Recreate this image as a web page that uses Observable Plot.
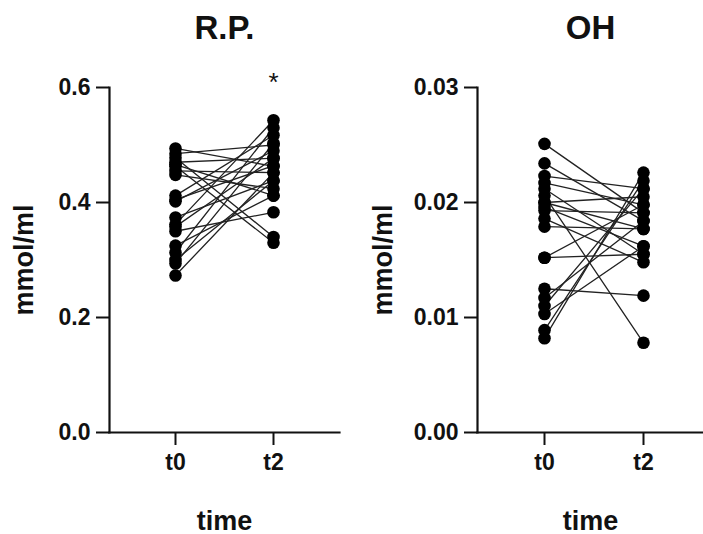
<!DOCTYPE html>
<html>
<head>
<meta charset="utf-8">
<script src="https://cdn.jsdelivr.net/npm/d3@7"></script>
<script src="https://cdn.jsdelivr.net/npm/@observablehq/plot@0.6"></script>
<style>
  html, body { margin: 0; padding: 0; background: #fff; overflow: hidden; }
  #wrap { display: flex; width: 703px; height: 534px; }
  svg { overflow: visible; }
</style>
</head>
<body>
<div id="wrap"></div>
<script>
const timepoints = ["t0", "t2"];
const titles = ["R.P.", "OH"];
const yLabel = "mmol/ml";
const xLabel = "time";

// R.P. paired values (mmol/ml)
const rpT0 = [0.494, 0.485, 0.478, 0.470, 0.463, 0.455, 0.448, 0.412, 0.402, 0.374,
              0.362, 0.350, 0.325, 0.313, 0.294, 0.273, 0.466, 0.405, 0.358, 0.300];
const rpT2 = [0.463, 0.500, 0.340, 0.477, 0.330, 0.452, 0.424, 0.517, 0.490, 0.438,
              0.543, 0.383, 0.412, 0.530, 0.503, 0.452, 0.412, 0.464, 0.477, 0.438];

// OH paired values (mmol/ml)
const ohT0 = [0.0251, 0.0234, 0.0223, 0.0217, 0.0212, 0.0206, 0.0200, 0.0196, 0.0193, 0.0186,
              0.0179, 0.0152, 0.0152, 0.0125, 0.0117, 0.0110, 0.0103, 0.0089, 0.0082, 0.0200];
const ohT2 = [0.0191, 0.0184, 0.0212, 0.0198, 0.0155, 0.0078, 0.0205, 0.0162, 0.0191, 0.0148,
              0.0177, 0.0198, 0.0155, 0.0119, 0.0184, 0.0212, 0.0162, 0.0219, 0.0226, 0.0177];

const rpTicks = [0, 0.2, 0.4, 0.6];
const ohTicks = [0, 0.01, 0.02, 0.03];

const rpStarTime = ["t2"];
const rpStarValue = [0.608];
const ohStarTime = [];
const ohStarValue = [];

function pairs(a, b) {
  const out = [];
  a.forEach((v, i) => {
    out.push({id: i, time: timepoints[0], v});
    out.push({id: i, time: timepoints[1], v: b[i]});
  });
  return out;
}

function panel({title, t0, t2, ticks, fmt, width, marginLeft, marginRight, xRange, starTime, starValue, labelDx}) {
  const data = pairs(t0, t2);
  const stars = starTime.map((t, i) => ({time: t, v: starValue[i], label: "*"}));
  return Plot.plot({
    width, height: 534,
    marginLeft, marginRight, marginTop: 87, marginBottom: 102,
    style: {fontFamily: "Liberation Sans, Arial, sans-serif", fontWeight: "bold", fontSize: "23px", color: "#111", background: "#fff"},
    x: {type: "point", domain: timepoints, range: xRange, padding: 0},
    y: {domain: [ticks[0], ticks[ticks.length - 1]], range: [432, 87]},
    marks: [
      Plot.line(data, {x: "time", y: "v", z: "id", stroke: "#222", strokeWidth: 1.3}),
      Plot.dot(data, {x: "time", y: "v", r: 6.3, fill: "#000", stroke: "none"}),
      Plot.axisY({ticks, tickFormat: fmt, tickSize: 13, tickPadding: 6, strokeWidth: 2, label: null, fontSize: 23}),
      Plot.axisX({tickSize: 13, tickPadding: 8, strokeWidth: 2, label: null, fontSize: 23}),
      Plot.frame({anchor: "left", strokeWidth: 2.2, stroke: "#111"}),
      Plot.frame({anchor: "bottom", strokeWidth: 2.2, stroke: "#111"}),
      Plot.text(stars, {x: "time", y: "v", text: "label", fontSize: 26, fontWeight: "normal"}),
      Plot.text([title], {frameAnchor: "top", dy: -72, fontSize: 33, fontWeight: "bold"}),
      Plot.text([yLabel], {frameAnchor: "left", textAnchor: "middle", lineAnchor: "middle", rotate: -90, dx: labelDx, fontSize: 27, fontWeight: "bold"}),
      Plot.text([xLabel], {frameAnchor: "bottom", dy: 97, fontSize: 27, fontWeight: "bold"})
    ]
  });
}

const wrap = document.getElementById("wrap");
wrap.append(panel({
  title: titles[0], t0: rpT0, t2: rpT2, ticks: rpTicks, fmt: d3.format(".1f"),
  width: 351, marginLeft: 109, marginRight: 12, xRange: [175, 273], starTime: rpStarTime, starValue: rpStarValue, labelDx: -85
}));
wrap.append(panel({
  title: titles[1], t0: ohT0, t2: ohT2, ticks: ohTicks, fmt: d3.format(".2f"),
  width: 352, marginLeft: 126, marginRight: 0, xRange: [193, 292], starTime: ohStarTime, starValue: ohStarValue, labelDx: -94
}));
</script>
</body>
</html>
